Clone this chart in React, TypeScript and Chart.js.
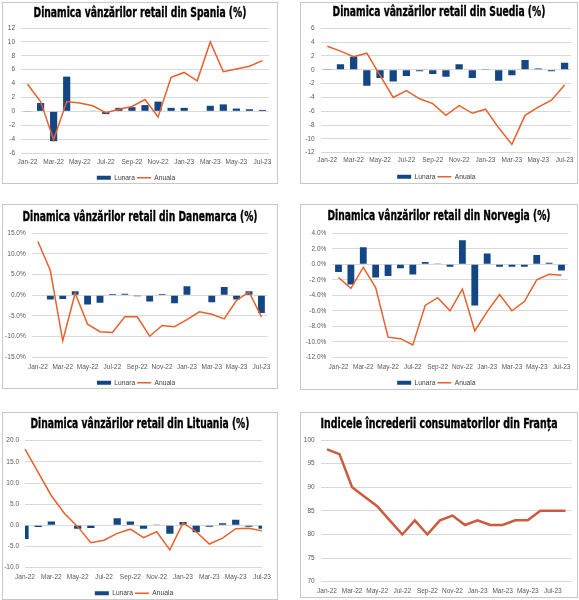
import { useEffect, useRef } from 'react';
import { Chart, registerables } from 'chart.js';

Chart.register(...registerables);

// luni (axa X)
const months = [
  'Jan-22', 'Feb-22', 'Mar-22', 'Apr-22', 'May-22', 'Jun-22', 'Jul-22', 'Aug-22', 'Sep-22', 'Oct-22',
  'Nov-22', 'Dec-22', 'Jan-23', 'Feb-23', 'Mar-23', 'Apr-23', 'May-23', 'Jun-23', 'Jul-23',
];
const monthsFranta = [...months, 'Aug-23'];

// Spania
const spaniaLunara = [-0.1, 1.2, -4.3, 5.0, 0, 0.05, -0.4, 0.5, 0.6, 0.9, 1.4, 0.5, 0.5, 0, 0.8, 1.0, 0.4, 0.3, 0.2];
const spaniaAnuala = [3.9, 1.4, -4.1, 1.4, 1.2, 0.8, -0.2, 0.3, 0.7, 1.7, -0.8, 4.9, 5.6, 4.4, 10.0, 5.7, 6.1, 6.5, 7.3];

// Suedia
const suediaLunara = [0.05, 0.8, 1.9, -2.3, -1.2, -1.7, -0.9, -0.2, -0.6, -1.0, 0.8, -1.2, 0.05, -1.6, -0.8, 1.4, 0.2, -0.2, 1.0];
const suediaAnuala = [3.4, 2.7, 1.9, 2.4, -0.8, -4.0, -3.0, -4.2, -4.9, -6.6, -5.2, -6.3, -5.7, -8.4, -10.8, -6.6, -5.4, -4.4, -2.2];

// Danemarca
const danemarcaLunara = [0, -1.0, -0.9, 1.0, -2.2, -1.8, 0.3, 0.4, -0.2, -1.5, 0.3, -1.9, 2.2, 0, -1.7, 2.0, -1.0, 1.0, -4.3];
const danemarcaAnuala = [13.0, 6.0, -11.0, 0.5, -7.0, -8.8, -9.0, -5.2, -5.2, -9.9, -7.3, -7.6, -5.9, -4.0, -4.6, -5.7, -1.2, 0.8, -5.2];

// Norvegia
const norvegiaLunara = [-1.0, -2.6, 2.2, -1.7, -1.5, -0.5, -1.3, 0.3, 0.1, -0.3, 3.1, -5.3, 1.4, -0.3, -0.3, -0.3, 1.2, 0.2, -0.8];
const norvegiaAnuala = [-1.7, -3.1, -0.4, -3.0, -9.4, -9.6, -10.4, -5.3, -4.3, -6.0, -3.2, -8.6, -6.1, -3.9, -6.0, -4.8, -2.0, -1.3, -1.4];

// Lituania
const lituaniaLunara = [-3.2, -0.4, 0.9, -0.1, -0.8, -0.6, 0, 1.7, 0.9, -0.8, 0.1, -2.0, 0.8, -1.6, -0.3, 0.5, 1.3, -0.3, -0.8];
const lituaniaAnuala = [18.0, 12.5, 7.0, 2.8, -0.3, -4.1, -3.5, -1.9, -0.9, -2.9, -1.5, -5.8, 0.6, -1.5, -4.4, -3.0, -0.8, -0.7, -1.3];

// Franta - increderea consumatorilor
const frantaIndice = [98, 97, 90, 88, 86, 83, 80, 83, 80, 83, 84, 82, 83, 82, 82, 83, 83, 85, 85, 85];

const BAR_COLOR = '#134682';
const LINE_COLOR = '#E8602C';
const GRID_COLOR = '#D9D9D9';
const TEXT_FONT = "'Liberation Sans', Arial, sans-serif";
const TITLE_FONT = "'DejaVu Sans Condensed', 'Liberation Sans', sans-serif";
const TITLE_SIZE = 14;
const TICK_SIZE = 6.5;
const LEG_SIZE = 6.7;
const LEG_PAD = 2;

// titlul e desenat comprimat pe orizontala (fontul original e foarte ingust)
const titlePlugin = {
  id: 'panelTitle',
  afterDraw(chart: any, _args: any, opts: any) {
    const { ctx } = chart;
    ctx.save();
    ctx.font = `bold ${TITLE_SIZE}px ${TITLE_FONT}`;
    ctx.fillStyle = '#000';
    ctx.strokeStyle = '#000';
    ctx.lineWidth = 0.35;
    ctx.textAlign = 'center';
    ctx.textBaseline = 'middle';
    const w = ctx.measureText(opts.text).width;
    ctx.translate(chart.width / 2, opts.y);
    ctx.scale(opts.width / w, 1);
    ctx.fillText(opts.text, 0, 0);
    ctx.strokeText(opts.text, 0, 0);
    ctx.restore();
  },
};

interface Box { left: number; top: number; w: number; h: number }
// pozitii tinta, in coordonatele canvas-ului
interface Targets {
  titleC: number; titleW: number; plotTop: number; plotBottom: number; plotLeft: number; plotRight: number;
  xLabelC: number; legendC?: number;
}

interface PanelProps {
  title: string;
  box: Box;
  t: Targets;
  labels: string[];
  bars?: number[];
  line: number[];
  min: number; max: number; step: number;
  fmt: (v: number) => string;
  offset: boolean;
  lineWidth?: number;
  lineColor?: string;
}

function Panel({ title, box, t, labels, bars, line, min, max, step, fmt, offset, lineWidth = 1.5, lineColor = LINE_COLOR }: PanelProps) {
  const ref = useRef<HTMLCanvasElement>(null);
  const W = box.w - 2;
  const H = box.h - 2;

  useEffect(() => {
    if (!ref.current) return;
    const hasLegend = !!bars;
    const legH = 2 * LEG_PAD + LEG_SIZE;
    let B = 0;
    let legendTop = H;
    if (hasLegend && t.legendC !== undefined) {
      B = Math.max(0, H - t.legendC - LEG_PAD - LEG_SIZE / 2);
      legendTop = H - B - legH;
    }
    const xH = legendTop - t.plotBottom;
    const xPad = t.xLabelC - t.plotBottom - (TICK_SIZE * 1.2) / 2;

    const datasets: any[] = [];
    if (bars) {
      datasets.push({
        type: 'bar',
        label: 'Lunara',
        data: bars,
        backgroundColor: BAR_COLOR,
        borderWidth: 0,
        categoryPercentage: 1,
        barPercentage: 0.55,
        order: 1,
        pointStyle: 'rect',
      });
    }
    datasets.push({
      type: 'line',
      label: 'Anuala',
      data: line,
      borderColor: lineColor,
      backgroundColor: lineColor,
      borderWidth: lineWidth,
      pointRadius: 0,
      tension: 0,
      order: 0,
      pointStyle: 'line',
    });

    const chart = new Chart(ref.current, {
      type: bars ? 'bar' : 'line',
      data: { labels, datasets },
      plugins: [titlePlugin],
      options: {
        responsive: false,
        animation: false,
        layout: { padding: { left: 0, right: W - t.plotRight, top: t.plotTop, bottom: B } },
        plugins: {
          panelTitle: { text: title, y: t.titleC, width: t.titleW },
          title: { display: false },
          legend: {
            display: hasLegend,
            position: 'bottom',
            maxHeight: legH,
            labels: {
              usePointStyle: true,
              pointStyleWidth: 14,
              boxHeight: 4,
              padding: LEG_PAD,
              color: '#404040',
              font: { family: TEXT_FONT, size: LEG_SIZE },
              sort: (a: any, b: any) => a.datasetIndex - b.datasetIndex,
            },
          },
          tooltip: { enabled: false },
        },
        scales: {
          x: {
            offset,
            grid: { display: false, drawTicks: false },
            border: { display: false },
            ticks: {
              autoSkip: false,
              maxRotation: 0,
              minRotation: 0,
              padding: xPad,
              color: '#595959',
              font: { family: TEXT_FONT, size: TICK_SIZE },
              callback: (_v: any, i: number) => (i % 2 === 0 ? labels[i] : ''),
            },
            afterFit: (s: any) => { s.height = xH; },
          },
          y: {
            min, max,
            grid: { color: GRID_COLOR, lineWidth: 1, drawTicks: false },
            border: { display: false },
            ticks: {
              stepSize: step,
              padding: 6,
              color: '#595959',
              font: { family: TEXT_FONT, size: TICK_SIZE },
              callback: (v: any) => fmt(Number(v)),
            },
            afterFit: (s: any) => { s.width = t.plotLeft; },
          },
        },
      },
    } as any);

    return () => {
      chart.destroy();
    };
  }, []);

  return (
    <div
      style={{
        position: 'absolute',
        left: box.left,
        top: box.top,
        width: box.w - 2,
        height: box.h - 2,
        border: '1px solid #C8C8C8',
        background: '#fff',
      }}
    >
      <canvas ref={ref} width={W} height={H} style={{ display: 'block', width: W, height: H }} />
    </div>
  );
}

const plain = (v: number) => String(v);
const pct = (v: number) => `${v.toFixed(1)}%`;
const one = (v: number) => v.toFixed(1);

export default function App() {
  return (
    <div style={{ position: 'absolute', left: 0, top: 0, width: 579, height: 600, background: '#fff' }}>
      <Panel
        title="Dinamica vânzărilor retail din Spania (%)"
        box={{ left: 2, top: 2, w: 276, h: 182 }}
        t={{ titleC: 10, titleW: 213, plotTop: 25, plotBottom: 150, plotLeft: 18, plotRight: 266, xLabelC: 159, legendC: 175 }}
        labels={months} bars={spaniaLunara} line={spaniaAnuala}
        min={-6} max={12} step={2} fmt={plain} offset
      />
      <Panel
        title="Dinamica vânzărilor retail din Suedia (%)"
        box={{ left: 300, top: 2, w: 278, h: 182 }}
        t={{ titleC: 9.7, titleW: 213, plotTop: 25.3, plotBottom: 149.7, plotLeft: 19.7, plotRight: 270.7, xLabelC: 157, legendC: 173.7 }}
        labels={months} bars={suediaLunara} line={suediaAnuala}
        min={-12} max={6} step={2} fmt={plain} offset
      />
      <Panel
        title="Dinamica vânzărilor retail din Danemarca (%)"
        box={{ left: 2, top: 204, w: 276, h: 185 }}
        t={{ titleC: 12.3, titleW: 235, plotTop: 28.3, plotBottom: 152.3, plotLeft: 28.7, plotRight: 266.3, xLabelC: 162.7, legendC: 177.7 }}
        labels={months} bars={danemarcaLunara} line={danemarcaAnuala}
        min={-15} max={15} step={5} fmt={pct} offset
      />
      <Panel
        title="Dinamica vânzărilor retail din Norvegia (%)"
        box={{ left: 300, top: 204, w: 278, h: 186 }}
        t={{ titleC: 11.7, titleW: 223, plotTop: 28.3, plotBottom: 152.3, plotLeft: 31.3, plotRight: 270.7, xLabelC: 162.7, legendC: 177.7 }}
        labels={months} bars={norvegiaLunara} line={norvegiaAnuala}
        min={-12} max={4} step={2} fmt={pct} offset
      />
      <Panel
        title="Dinamica vânzărilor retail din Lituania (%)"
        box={{ left: 2, top: 412, w: 276, h: 188 }}
        t={{ titleC: 11, titleW: 219, plotTop: 27.7, plotBottom: 154.7, plotLeft: 22, plotRight: 262, xLabelC: 164.7, legendC: 180.3 }}
        labels={months} bars={lituaniaLunara} line={lituaniaAnuala}
        min={-10} max={20} step={5} fmt={one} offset={false}
      />
      <Panel
        title="Indicele încrederii consumatorilor din Franța"
        box={{ left: 300, top: 412, w: 278, h: 186 }}
        t={{ titleC: 11, titleW: 237, plotTop: 27, plotBottom: 168.7, plotLeft: 19.7, plotRight: 270.7, xLabelC: 178 }}
        labels={monthsFranta} line={frantaIndice}
        min={70} max={100} step={5} fmt={plain} offset
        lineWidth={2.5} lineColor="#CD5A3C"
      />
    </div>
  );
}
